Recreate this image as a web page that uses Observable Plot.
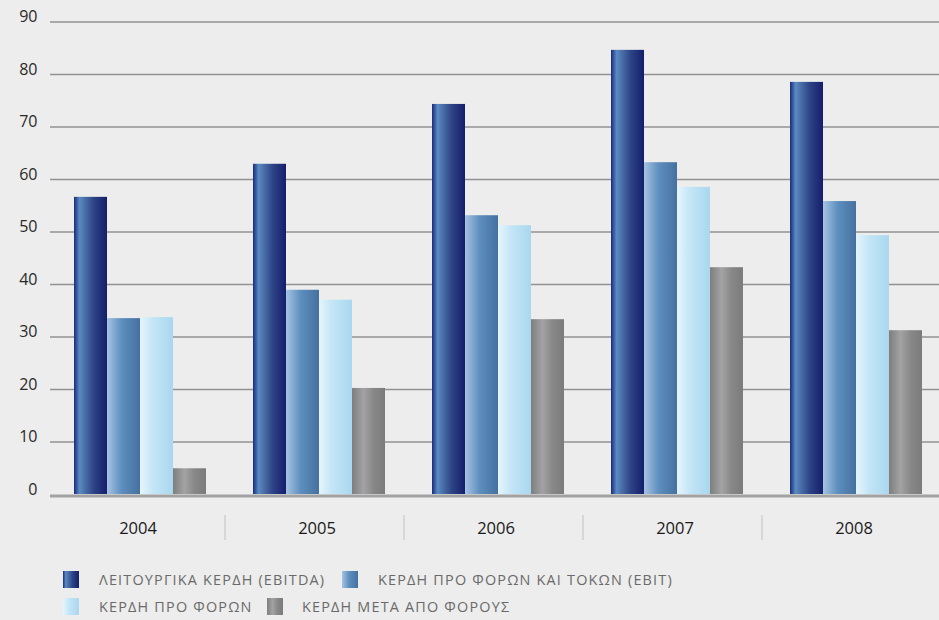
<!DOCTYPE html>
<html><head><meta charset="utf-8">
<script src="https://cdn.jsdelivr.net/npm/d3@7"></script>
<script src="https://cdn.jsdelivr.net/npm/@observablehq/plot@0.6"></script>
<style>
html,body{margin:0;padding:0;background:#ecedec;}
#wrap{position:relative;width:939px;height:620px;overflow:hidden;background:#ecedec;font-family:"Open Sans",sans-serif;}
.item{position:absolute;display:flex;align-items:center;font-size:14.4px;letter-spacing:1.2px;color:#6a6a6a;white-space:nowrap;height:17px;}
.sw{width:16px;height:17px;flex:none;}
</style></head><body>
<div id="wrap"><div id="chart"></div></div>
<script>
const years = ["2004", "2005", "2006", "2007", "2008"];
const seriesNames = ["ΛΕΙΤΟΥΡΓΙΚΑ ΚΕΡΔΗ (EBITDA)", "ΚΕΡΔΗ ΠΡΟ ΦΟΡΩΝ ΚΑΙ ΤΟΚΩΝ (EBIT)", "ΚΕΡΔΗ ΠΡΟ ΦΟΡΩΝ", "ΚΕΡΔΗ ΜΕΤΑ ΑΠΟ ΦΟΡΟΥΣ"];
const ebitda   = [56.6, 62.9, 74.3, 84.6, 78.5];
const ebit     = [33.5, 38.9, 53.1, 63.2, 55.8];
const preTax   = [33.7, 37.0, 51.2, 58.5, 49.3];
const afterTax = [4.9, 20.2, 33.3, 43.2, 31.2];
const yTicks = [0, 10, 20, 30, 40, 50, 60, 70, 80, 90];

const seriesValues = [ebitda, ebit, preTax, afterTax];
const gradIds = ["g0", "g1", "g2", "g3"];
const gradStops = [
  [[0, "#1d2a7c"], [0.06, "#2f4c97"], [0.17, "#5a8bc2"], [0.32, "#4a70a9"], [0.6, "#2d4386"], [1, "#151e6b"]],
  [[0, "#a6c3e2"], [0.45, "#5d8ebd"], [1, "#4571a0"]],
  [[0, "#e5f5fd"], [0.4, "#c3e5f6"], [1, "#a9d7ef"]],
  [[0, "#7e7e7e"], [0.35, "#a3a3a5"], [0.65, "#888888"], [1, "#7b7b7b"]]
];

const table = [];
years.forEach((yr, i) => seriesNames.forEach((s, j) => table.push({year: yr, series: s, value: seriesValues[j][i]})));

const plot = Plot.plot({
  width: 939,
  height: 550,
  marginTop: 21.5,
  marginBottom: 56,
  marginLeft: 48,
  marginRight: -8,
  style: {background: "transparent", fontFamily: "'Open Sans', sans-serif", color: "#222"},
  fx: {domain: years, padding: 0, label: null},
  x: {domain: seriesNames, paddingInner: 0, paddingOuter: 0.7, axis: null},
  y: {domain: [0, 90], label: null},
  color: {domain: seriesNames, range: gradIds.map(id => `url(#${id})`)},
  marks: [
    Plot.ruleY(yTicks.filter(v => v > 0), {stroke: "#929292", strokeWidth: 1.6}),
    Plot.barY(table, {fx: "year", x: "series", y: "value", fill: "series", inset: 0}),
    Plot.ruleY([0], {stroke: "#a2a2a2", strokeWidth: 3, dy: 1.5}),
    Plot.axisY({ticks: yTicks, tickSize: 0, tickPadding: 13, dy: -5, label: null, fontSize: 16, fill: "#2a2a2a"}),
    Plot.axisFx({anchor: "bottom", tickSize: 0, tickPadding: 28, dx: -2, label: null, fontSize: 16.5, fill: "#1a1a1a"})
  ]
});

const svg = d3.select(plot);
const defs = svg.insert("defs", ":first-child");
gradIds.forEach((id, k) => {
  const g = defs.append("linearGradient").attr("id", id).attr("x1", "0").attr("x2", "1").attr("y1", "0").attr("y2", "0");
  gradStops[k].forEach(([o, c]) => g.append("stop").attr("offset", o).attr("stop-color", c));
});

// separators between years, positioned by the fx scale
const fx = plot.scale("fx");
const yScale = plot.scale("y");
const base = yScale.apply(0);
years.slice(1).forEach(yr => {
  const xp = fx.apply(yr) - 4;
  svg.append("line").attr("x1", xp).attr("x2", xp).attr("y1", base + 21).attr("y2", base + 46)
    .attr("stroke", "#cfcfcf").attr("stroke-width", 1.5);
});

document.getElementById("chart").appendChild(plot);

// legend
const legendPos = [[63, 571], [342, 571], [63, 598], [267, 598]];
const wrap = document.getElementById("wrap");
seriesNames.forEach((s, k) => {
  const it = document.createElement("div");
  it.className = "item";
  it.style.left = legendPos[k][0] + "px";
  it.style.top = legendPos[k][1] + "px";
  const sw = document.createElement("div");
  sw.className = "sw";
  sw.style.background = "linear-gradient(to right," + gradStops[k].map(([o, c]) => `${c} ${o * 100}%`).join(",") + ")";
  sw.style.marginRight = (k === 3 ? 19 : 20) + "px";
  const t = document.createElement("span");
  t.textContent = s;
  it.appendChild(sw);
  it.appendChild(t);
  wrap.appendChild(it);
});
</script>
</body></html>
